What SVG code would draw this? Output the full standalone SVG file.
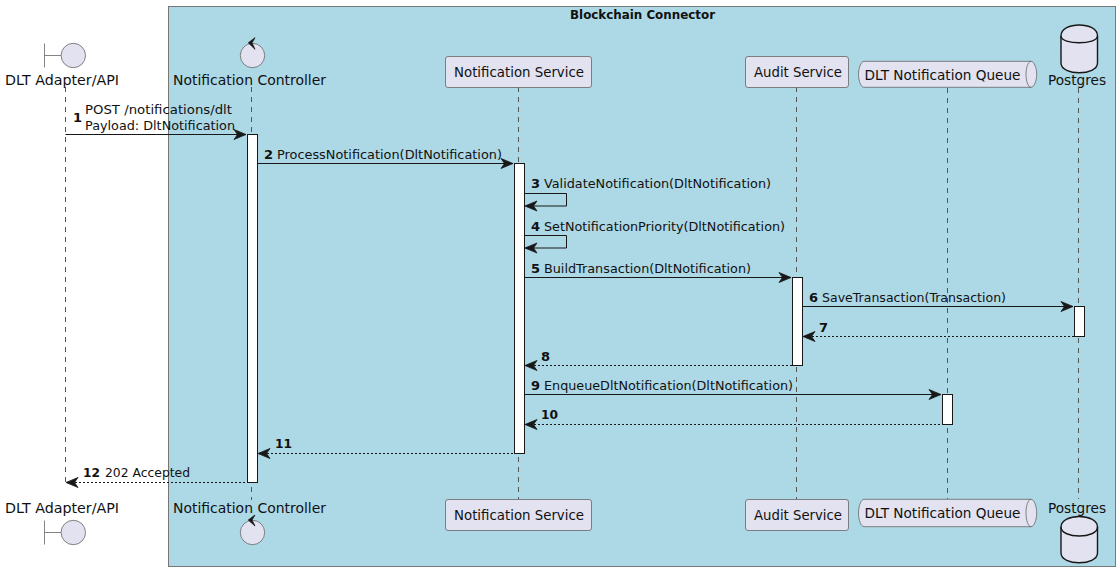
<svg xmlns="http://www.w3.org/2000/svg" width="1120" height="578" viewBox="0 0 1120 578">
<style>
text{font-family:"DejaVu Sans","Liberation Sans",sans-serif;fill:#111;font-size:13px}
.n{font-size:14px}
.b{font-weight:bold}
.life{stroke:#555;stroke-width:1;stroke-dasharray:5 5;fill:none}
.shape{fill:#E2E2F0;stroke:#666;stroke-width:.8}
.db{fill:#E2E2F0;stroke:#181818;stroke-width:1.4}
.act{fill:#fff;stroke:#181818;stroke-width:1}
.s{stroke:#181818;stroke-width:1;fill:none}
.d{stroke:#181818;stroke-width:1;stroke-dasharray:2 2;fill:none}
.h{fill:#181818;stroke:#181818;stroke-width:.8}
</style>
<defs>
<path id="ar" class="h" d="M0 0L-12-5L-8.500 0L-12 5Z"/>
<path id="al" class="h" d="M0 0L12-5L8.500 0L12 5Z"/>
</defs>
<rect id="box" x="168.5" y="6.5" width="947" height="560" fill="#ADD8E6" stroke="#777" stroke-width="1"/>
<text class="b" x="642.5" y="19" text-anchor="middle" style="font-size:12px" textLength="145" lengthAdjust="spacingAndGlyphs">Blockchain Connector</text>
<g id="lifelines">
<path class="life" d="M65.5 87V487"/><path class="life" d="M251.5 87V500"/><path class="life" d="M518.5 87V499"/><path class="life" d="M796.5 87V499"/><path class="life" d="M947.5 88V499"/><path class="life" d="M1078.5 88V499"/>
</g>
<g id="activations">
<rect class="act" x="247.5" y="134.5" width="10" height="348"/>
<rect class="act" x="514.5" y="163.5" width="10" height="290"/>
<rect class="act" x="792.5" y="277.5" width="10" height="88"/>
<rect class="act" x="942.5" y="394.5" width="10" height="30"/>
<rect class="act" x="1074.5" y="306.5" width="10" height="30"/>
</g>
<g id="connectors">
<path class="s" d="M65.5 134.5H246"/><use href="#ar" x="246" y="134.5"/>
<path class="s" d="M258 163.5H513"/><use href="#ar" x="513" y="163.5"/>
<path class="s" d="M525 193.5H566.5V206H526"/><use href="#al" x="525" y="206"/>
<path class="s" d="M525 235.5H566.5V248H526"/><use href="#al" x="525" y="248"/>
<path class="s" d="M525 277.5H791"/><use href="#ar" x="791" y="277.5"/>
<path class="s" d="M803 306.5H1073"/><use href="#ar" x="1073" y="306.5"/>
<path class="d" d="M804 336.5H1074"/><use href="#al" x="803" y="336.5"/>
<path class="d" d="M526 365.5H792"/><use href="#al" x="525" y="365.5"/>
<path class="s" d="M525 394.5H941"/><use href="#ar" x="941" y="394.5"/>
<path class="d" d="M526 424.5H942"/><use href="#al" x="525" y="424.5"/>
<path class="d" d="M259 453.5H514"/><use href="#al" x="258" y="453.5"/>
<path class="d" d="M67 482.5H247"/><use href="#al" x="66" y="482.5"/>
</g>
<g id="labels">
<text class="b" x="73" y="122">1</text>
<text x="85" y="114" textLength="147" lengthAdjust="spacingAndGlyphs">POST /notifications/dlt</text>
<text x="85" y="130" textLength="150" lengthAdjust="spacingAndGlyphs">Payload: DltNotification</text>
<text class="b" x="264" y="158.500">2</text><text x="277" y="158.500" textLength="225" lengthAdjust="spacingAndGlyphs">ProcessNotification(DltNotification)</text>
<text class="b" x="531" y="187.500">3</text><text x="544" y="187.500" textLength="227" lengthAdjust="spacingAndGlyphs">ValidateNotification(DltNotification)</text>
<text class="b" x="531" y="230.700">4</text><text x="544" y="230.700" textLength="241" lengthAdjust="spacingAndGlyphs">SetNotificationPriority(DltNotification)</text>
<text class="b" x="531" y="272.700">5</text><text x="544" y="272.700" textLength="207" lengthAdjust="spacingAndGlyphs">BuildTransaction(DltNotification)</text>
<text class="b" x="809" y="301.700">6</text><text x="822" y="301.700" textLength="184" lengthAdjust="spacingAndGlyphs">SaveTransaction(Transaction)</text>
<text class="b" x="819" y="331.700">7</text>
<text class="b" x="541" y="361">8</text>
<text class="b" x="531" y="390">9</text><text x="544" y="390" textLength="249" lengthAdjust="spacingAndGlyphs">EnqueueDltNotification(DltNotification)</text>
<text class="b" x="541" y="419" textLength="17" lengthAdjust="spacingAndGlyphs">10</text>
<text class="b" x="275" y="448.300" textLength="17" lengthAdjust="spacingAndGlyphs">11</text>
<text class="b" x="83" y="477.300" textLength="17" lengthAdjust="spacingAndGlyphs">12</text><text x="105" y="477.300" textLength="85" lengthAdjust="spacingAndGlyphs">202 Accepted</text>
</g>
<g id="adapter-top">
<path class="shape" d="M44.500 43.500V67.500M44.500 55.500H61"/><circle class="shape" cx="73.300" cy="55.500" r="12.200"/>
<text class="n" x="5" y="85" textLength="114" lengthAdjust="spacingAndGlyphs">DLT Adapter/API</text>
</g>
<g id="controller-top">
<circle class="shape" cx="252.500" cy="55.500" r="12.200"/><path class="h" d="M248.300 42.800L255 37.700L252 42.800L255 49.300Z"/>
<text class="n" x="173" y="85" textLength="153" lengthAdjust="spacingAndGlyphs">Notification Controller</text>
</g>
<g id="service-top">
<rect class="shape" x="445.500" y="56.500" width="146" height="31" rx="2.500"/>
<text class="n" x="454" y="77" textLength="130" lengthAdjust="spacingAndGlyphs">Notification Service</text>
</g>
<g id="audit-top">
<rect class="shape" x="745.500" y="56.500" width="103" height="31" rx="2.500"/>
<text class="n" x="754" y="77" textLength="88" lengthAdjust="spacingAndGlyphs">Audit Service</text>
</g>
<g id="queue-top">
<path class="shape" d="M864 61.300H1031C1034 61.300 1036.700 68 1036.700 74.300C1036.700 81 1034 87.300 1031 87.300H864C861 87.300 858.500 81 858.500 74.300C858.500 68 861 61.300 864 61.300Z"/>
<path class="shape" d="M1031 61.300C1028 61.300 1026 68 1026 74.300C1026 81 1028 87.300 1031 87.300" style="fill:none"/>
<text class="n" x="864.500" y="80" textLength="156" lengthAdjust="spacingAndGlyphs">DLT Notification Queue</text>
</g>
<g id="postgres-top">
<path class="db" d="M1061 36C1061 21.300 1097.500 21.300 1097.500 36V63C1097.500 76 1061 76 1061 63Z"/><path class="db" d="M1061 36C1061 45 1097.500 45 1097.500 36" style="fill:none"/>
<text class="n" x="1048" y="85" textLength="58" lengthAdjust="spacingAndGlyphs">Postgres</text>
</g>
<g id="adapter-bottom">
<text class="n" x="5" y="512.700" textLength="114" lengthAdjust="spacingAndGlyphs">DLT Adapter/API</text>
<path class="shape" d="M44.500 520.500V544.500M44.500 532.500H61"/><circle class="shape" cx="73.300" cy="532.500" r="12.200"/>
</g>
<g id="controller-bottom">
<text class="n" x="173" y="512.700" textLength="153" lengthAdjust="spacingAndGlyphs">Notification Controller</text>
<circle class="shape" cx="252.500" cy="532.500" r="12.200"/><path class="h" d="M248.300 520L255 515L252 520L255 526Z"/>
</g>
<g id="service-bottom">
<rect class="shape" x="445.500" y="499.500" width="146" height="31" rx="2.500"/>
<text class="n" x="454" y="520" textLength="130" lengthAdjust="spacingAndGlyphs">Notification Service</text>
</g>
<g id="audit-bottom">
<rect class="shape" x="745.500" y="499.500" width="103" height="31" rx="2.500"/>
<text class="n" x="754" y="520" textLength="88" lengthAdjust="spacingAndGlyphs">Audit Service</text>
</g>
<g id="queue-bottom">
<path class="shape" d="M864 499.300H1031C1034 499.300 1036.700 506 1036.700 513C1036.700 520 1034 526.700 1031 526.700H864C861 526.700 858.500 520 858.500 513C858.500 506 861 499.300 864 499.300Z"/>
<path class="shape" d="M1031 499.300C1028 499.300 1026 506 1026 513C1026 520 1028 526.700 1031 526.700" style="fill:none"/>
<text class="n" x="864.500" y="518" textLength="156" lengthAdjust="spacingAndGlyphs">DLT Notification Queue</text>
</g>
<g id="postgres-bottom">
<text class="n" x="1048" y="513" textLength="58" lengthAdjust="spacingAndGlyphs">Postgres</text>
<path class="db" d="M1061 527C1061 513 1097.500 513 1097.500 527V553C1097.500 566 1061 566 1061 553Z"/><path class="db" d="M1061 527C1061 539 1097.500 539 1097.500 527" style="fill:none"/>
</g>
</svg>
